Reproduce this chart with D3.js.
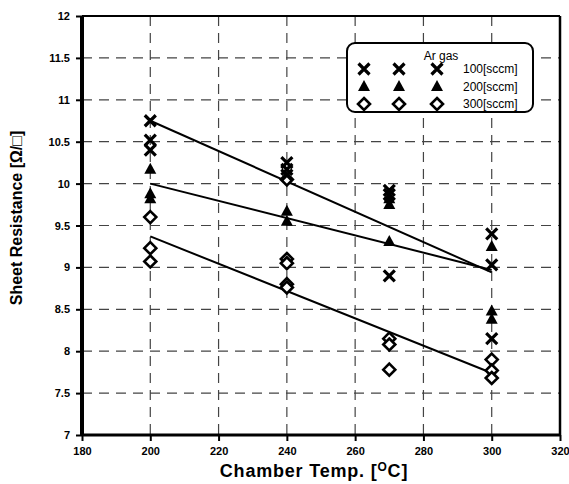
<!DOCTYPE html>
<html><head><meta charset="utf-8">
<script src="https://cdn.jsdelivr.net/npm/d3@7/dist/d3.min.js"></script>
<style>body{margin:0;background:#fff;}svg{display:block;font-family:"Liberation Sans",Arial,sans-serif;}</style>
</head><body>
<svg id="c" width="569" height="484"></svg>
<script>
const xTicks = [180,200,220,240,260,280,300,320];
const yTicks = [7,7.5,8,8.5,9,9.5,10,10.5,11,11.5,12];
const yTickLabels = ["7","7.5","8","8.5","9","9.5","10","10.5","11","11.5","12"];
const seriesNames = ["100[sccm]","200[sccm]","300[sccm]"];
const s100 = [[200,10.75],[200,10.52],[200,10.4],[240,10.25],[240,10.17],[240,10.1],[270,9.92],[270,9.87],[270,8.9],[300,9.4],[300,9.03],[300,8.15]];
const s200 = [[200,10.17],[200,9.88],[200,9.82],[240,9.67],[240,9.55],[270,9.82],[270,9.75],[270,9.31],[300,9.25],[300,8.48],[300,8.38]];
const s300 = [[200,9.6],[200,9.23],[200,9.07],[240,10.05],[240,9.1],[240,9.05],[240,8.8],[240,8.76],[270,8.15],[270,8.08],[270,7.78],[300,7.9],[300,7.77],[300,7.68]];
const fit100 = [[200,10.75],[300,8.94]];
const fit200 = [[200,10.0],[300,8.97]];
const fit300 = [[200,9.37],[300,7.74]];

const svg = d3.select("#c");
const L=82, R=560, T=16, B=435;
const x = d3.scaleLinear().domain([180,320]).range([L,R]);
const y = d3.scaleLinear().domain([7,12]).range([B,T]);

// grid
const g = svg.append("g");
g.selectAll(".vg").data(xTicks.slice(1,-1)).enter().append("line")
 .attr("x1",d=>x(d)).attr("x2",d=>x(d)).attr("y1",T).attr("y2",B)
 .attr("stroke","#444").attr("stroke-width",1.2).attr("stroke-dasharray","10,7");
g.selectAll(".hg").data(yTicks.slice(1,-1)).enter().append("line")
 .attr("y1",d=>y(d)).attr("y2",d=>y(d)).attr("x1",L).attr("x2",R)
 .attr("stroke","#444").attr("stroke-width",1.2).attr("stroke-dasharray","10,7");

// axes
const xAxis = d3.axisBottom(x).tickValues(xTicks).tickSize(6).tickPadding(6).tickFormat(d3.format("d"));
const yAxis = d3.axisLeft(y).tickValues(yTicks).tickSize(6).tickPadding(6).tickFormat((d,i)=>yTickLabels[i]);
const xa = svg.append("g").attr("transform",`translate(0,${B})`).call(xAxis);
const ya = svg.append("g").attr("transform",`translate(${L},0)`).call(yAxis);
[xa,ya].forEach(a=>{
  a.select(".domain").remove();
  a.selectAll(".tick line").attr("stroke","#000").attr("stroke-width",2);
  a.selectAll(".tick text").attr("font-size",11).attr("font-weight","bold").attr("fill","#000")
   .attr("font-family","'Liberation Sans',Arial,sans-serif");
});
// frame
svg.append("line").attr("x1",L).attr("x2",R).attr("y1",B).attr("y2",B).attr("stroke","#000").attr("stroke-width",3);
svg.append("line").attr("x1",L).attr("x2",L).attr("y1",T).attr("y2",B).attr("stroke","#000").attr("stroke-width",4);
svg.append("line").attr("x1",L).attr("x2",R).attr("y1",T).attr("y2",T).attr("stroke","#000").attr("stroke-width",2);
svg.append("line").attr("x1",R).attr("x2",R).attr("y1",T).attr("y2",B).attr("stroke","#000").attr("stroke-width",2.5);

// fit lines
const line = d3.line().x(d=>x(d[0])).y(d=>y(d[1]));
[fit100,fit200,fit300].forEach(f=>{
  svg.append("path").attr("d",line(f)).attr("fill","none").attr("stroke","#000").attr("stroke-width",2);
});

// markers
function drawX(sel,cx,cy){
  const s=5.5;
  sel.append("path").attr("d",`M${cx-s},${cy-s}L${cx+s},${cy+s}M${cx-s},${cy+s}L${cx+s},${cy-s}`)
   .attr("stroke","#000").attr("stroke-width",3.2).attr("fill","none");
}
function drawT(sel,cx,cy){
  sel.append("path").attr("d",`M${cx},${cy-6.5}L${cx+6},${cy+4.5}L${cx-6},${cy+4.5}Z`).attr("fill","#000");
}
function drawD(sel,cx,cy){
  const s=6;
  sel.append("path").attr("d",`M${cx},${cy-s}L${cx+s},${cy}L${cx},${cy+s}L${cx-s},${cy}Z`)
   .attr("fill","#fff").attr("stroke","#000").attr("stroke-width",2.6);
}
const mk = svg.append("g");
s300.forEach(d=>drawD(mk,x(d[0]),y(d[1])));
s200.forEach(d=>drawT(mk,x(d[0]),y(d[1])));
s100.forEach(d=>drawX(mk,x(d[0]),y(d[1])));

// legend
const lg = svg.append("g");
lg.append("rect").attr("x",347).attr("y",43).attr("width",186).attr("height",69).attr("rx",8)
 .attr("fill","#fff").attr("stroke","#000").attr("stroke-width",2);
lg.append("text").attr("x",441).attr("y",60).attr("text-anchor","middle").attr("font-size",12).text("Ar gas");
const drawers=[drawX,drawT,drawD];
seriesNames.forEach((n,i)=>{
  const cy = 69 + i*17.5;
  [364,399,437].forEach(cx=>drawers[i](lg,cx,cy));
  lg.append("text").attr("x",463).attr("y",cy+4).attr("font-size",12).text(n);
});

// axis titles
svg.append("text").attr("transform","translate(22,218) rotate(-90)").attr("text-anchor","middle")
 .attr("font-size",16).attr("font-weight","bold").text("Sheet Resistance [Ω/□]");
const xt = svg.append("text").attr("x",314).attr("y",477).attr("text-anchor","middle")
 .attr("font-size",18).attr("font-weight","bold").attr("letter-spacing",0.8);
xt.append("tspan").text("Chamber Temp. [");
xt.append("tspan").attr("font-size",12).attr("dy",-6).text("O");
xt.append("tspan").attr("dy",6).text("C]");
</script>
</body></html>
